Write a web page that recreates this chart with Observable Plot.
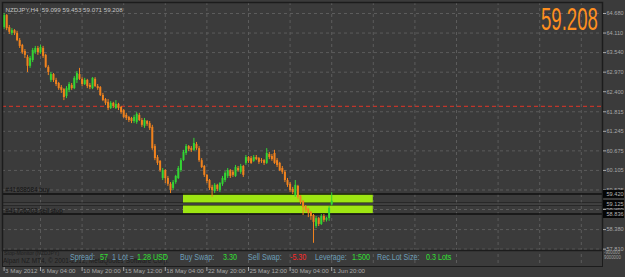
<!DOCTYPE html>
<html><head><meta charset="utf-8">
<script src="https://cdn.jsdelivr.net/npm/d3@7"></script>
<script src="https://cdn.jsdelivr.net/npm/@observablehq/plot@0.6"></script>
<style>
html,body{margin:0;padding:0;background:#3b3b3b;overflow:hidden;}
#wrap{position:relative;width:625px;height:277px;overflow:hidden;}
#wrap svg{position:absolute;left:0;top:0;}
.ov{position:absolute;white-space:nowrap;font-family:"Liberation Sans",Arial,sans-serif;transform-origin:0 50%;}
</style></head><body><div id="wrap"></div>
<script>
// ---- data (NZDJPY, H4) ----
const symbol = "NZDJPY", timeframe = "H4";
const opens = [64.27,64.62,64.27,64.10,64.18,64.10,63.89,63.75,63.57,63.40,63.14,63.31,63.54,63.66,63.54,63.66,63.46,63.11,62.73,62.90,
62.73,62.64,62.52,62.46,62.26,62.44,62.58,62.49,62.73,62.90,62.76,62.61,62.73,62.58,62.49,62.76,62.55,62.52,62.29,62.17,
62.09,61.91,62.06,61.91,62.03,61.94,61.85,61.71,61.65,61.62,61.53,61.50,61.71,61.56,61.39,61.53,61.47,61.36,60.80,60.48,
60.37,59.87,60.10,59.87,59.70,59.58,59.75,59.87,60.10,60.39,60.60,60.80,60.74,60.69,60.86,60.74,60.39,60.22,59.96,59.81,
59.61,59.49,59.67,59.52,59.70,59.81,59.93,60.10,60.05,59.93,60.16,60.05,60.22,60.31,60.48,60.45,60.37,60.48,60.45,60.39,
60.39,60.31,60.57,60.51,60.60,60.39,60.31,60.16,60.05,59.81,59.70,59.55,59.37,59.64,59.35,59.20,59.05,58.97,58.88,58.79,
58.47,58.70,58.53,58.76,58.65,58.70,59.099];
const highs = [64.68,64.65,64.33,64.24,64.21,64.16,63.95,63.78,63.63,63.46,63.43,63.66,63.72,63.72,63.75,63.72,63.49,63.16,62.96,62.93,
62.79,62.67,62.58,62.49,62.55,62.67,62.64,62.84,62.99,63.08,62.81,62.79,62.76,62.64,62.81,62.81,62.61,62.55,62.35,62.20,
62.17,62.11,62.09,62.14,62.06,61.97,61.88,61.77,61.68,61.65,61.71,61.79,61.77,61.62,61.62,61.56,61.53,61.42,60.86,60.54,
60.39,60.16,60.13,59.93,59.75,59.81,59.96,60.22,60.45,60.69,60.86,60.83,60.80,61.04,60.92,60.80,60.45,60.25,59.99,59.84,
59.67,59.72,59.70,59.75,59.93,60.07,60.16,60.13,60.10,60.25,60.22,60.28,60.25,60.54,60.51,60.51,60.54,60.54,60.48,60.45,
60.42,60.74,60.63,60.57,60.69,60.45,60.34,60.22,60.10,59.87,59.75,59.61,59.81,59.67,59.37,59.23,59.08,59.00,58.91,58.82,
58.76,58.73,58.82,58.82,58.74,59.05,59.453];
const lows = [64.21,64.18,64.07,64.04,64.04,63.86,63.66,63.49,63.37,62.96,63.08,63.25,63.49,63.46,63.49,63.37,63.08,62.87,62.67,62.67,
62.55,62.44,62.35,62.14,62.20,62.38,62.44,62.46,62.64,62.73,62.55,62.58,62.49,62.46,62.46,62.52,62.44,62.26,62.11,62.00,
61.85,61.88,61.91,61.88,61.85,61.74,61.62,61.56,61.50,61.47,61.47,61.45,61.53,61.36,61.33,61.39,61.27,60.69,60.39,60.25,
60.05,59.81,59.72,59.64,59.43,59.52,59.70,59.84,60.05,60.37,60.54,60.66,60.63,60.66,60.69,60.34,60.16,59.90,59.72,59.52,
59.32,59.43,59.49,59.46,59.64,59.75,59.87,59.87,59.90,59.90,60.05,59.99,59.90,60.25,60.31,60.28,60.34,60.39,60.28,60.31,
60.25,60.28,60.42,60.37,60.28,60.19,60.07,59.99,59.75,59.61,59.46,59.40,59.32,59.26,59.11,58.79,58.88,58.73,58.65,57.98,
58.41,58.47,58.50,58.59,58.60,58.62,59.071];
const closes = [64.62,64.24,64.13,64.18,64.10,63.89,63.72,63.54,63.46,63.14,63.37,63.60,63.66,63.54,63.69,63.43,63.11,62.96,62.90,62.73,
62.61,62.49,62.44,62.23,62.49,62.61,62.49,62.79,62.93,62.76,62.61,62.73,62.55,62.52,62.79,62.55,62.49,62.29,62.14,62.06,
61.91,62.06,61.97,62.03,61.91,61.79,61.65,61.62,61.56,61.53,61.65,61.74,61.56,61.42,61.56,61.45,61.33,60.74,60.45,60.31,
60.10,60.10,59.87,59.70,59.52,59.75,59.93,60.16,60.39,60.63,60.80,60.72,60.69,60.89,60.74,60.39,60.19,59.96,59.78,59.58,
59.52,59.67,59.55,59.72,59.87,60.02,60.10,59.93,59.96,60.19,60.10,60.22,59.96,60.48,60.37,60.31,60.48,60.42,60.34,60.37,
60.31,60.60,60.48,60.42,60.31,60.25,60.10,60.05,59.81,59.67,59.52,59.46,59.67,59.32,59.17,59.02,58.94,58.85,58.76,58.59,
58.70,58.53,58.76,58.65,58.70,59.00,59.208];

const priceTicks = [64.680,64.110,63.540,62.970,62.400,61.815,61.245,60.675,60.105,59.535,58.965,58.380,57.810];
const timeTickBars = [0,14,30,46,62,78,94,110,126];
const timeTickLabels = ["3 May 2012","6 May 04:00","10 May 20:00","15 May 12:00","18 May 04:00","22 May 20:00","25 May 12:00","30 May 04:00","1 Jun 20:00"];
const gridBars = [14,30,46,62,78,94,110,126,142,158,174,190,206,222];

const alertPrice = 61.97;
const orderPrices = [59.420, 59.125, 58.836];
const orderPriceLabels = ["59.420","59.125","58.836"];
const orderTagPrices = [59.420, 58.836];
const orderTagLabels = ["#41688684 buy","#41726203 sell stop"];
const zoneBars = [69, 142];
const subScaleLabels = ["-900000", "9000000"];

// ---- build ----
const bull = "#33d433", bear = "#f0821e";
const candles = closes.map((c, i) => ({i, o: opens[i], h: highs[i], l: lows[i], c, col: c >= opens[i] ? bull : bear}));
const n = closes.length - 1;
const headerText = `${symbol},${timeframe}  ${opens[n].toFixed(3)} ${highs[n].toFixed(3)} ${lows[n].toFixed(3)} ${closes[n].toFixed(3)}`;
const zone = [{b1: zoneBars[0], b2: zoneBars[1], p1: orderPrices[0], p2: orderPrices[2]}];
const tags = orderTagPrices.map((p, i) => ({price: p, label: orderTagLabels[i]}));

const chart = Plot.plot({
  width: 625, height: 277,
  marginLeft: 2, marginRight: 23, marginTop: 2, marginBottom: 27,
  x: {domain: [-0.615, 230.15], axis: null},
  y: {domain: [57.770, 65.001], axis: null},
  color: {type: "identity"},
  style: {background: "#3b3b3b", color: "#a9a9a9", fontFamily: "'Liberation Sans', Arial, sans-serif", fontSize: "7px", overflow: "visible"},
  marks: [
    Plot.ruleY(priceTicks, {stroke: "#5c5c5c", strokeDasharray: "3,3"}),
    Plot.ruleX(gridBars, {stroke: "#5c5c5c", strokeDasharray: "3,3", insetBottom: -16}),
    Plot.rect(zone, {x1: "b1", x2: "b2", y1: "p1", y2: "p2", fill: "#9ee612"}),
    Plot.ruleY([alertPrice], {stroke: "#c0352a", strokeWidth: 1.3, strokeDasharray: "4,3"}),
    Plot.ruleY(orderTagPrices, {stroke: "#111", strokeWidth: 1.5}),
    Plot.ruleY([orderPrices[1]], {stroke: "#161616", strokeWidth: 3}),
    Plot.ruleY([orderPrices[1]], {stroke: "#6a6a6a", strokeWidth: 1}),
    Plot.ruleX(candles, {x: "i", y1: "l", y2: "h", stroke: "col", strokeWidth: 1}),
    Plot.ruleX(candles, {x: "i", y1: "o", y2: "c", stroke: "col", strokeWidth: 2}),
    Plot.frame({stroke: "#1c1c1c", strokeWidth: 1.5}),
    Plot.frame({stroke: "#1c1c1c", insetBottom: -16}),
    Plot.axisY(priceTicks, {anchor: "right", tickSize: 3, tickPadding: 1, tickFormat: d => d.toFixed(3), fontSize: 5.6}),
    Plot.ruleY(orderPrices, {stroke: "#050505", strokeWidth: 8, insetLeft: 601, insetRight: -22}),
    Plot.text(orderPrices, {y: d => d, text: (d, i) => orderPriceLabels[i], frameAnchor: "right", textAnchor: "start", dx: 4, fill: "#b5b5b5", fontSize: 5.6}),
    Plot.text(tags, {y: "price", text: "label", frameAnchor: "left", textAnchor: "start", dx: 3, dy: -3.5, fill: "#141414", fontSize: 6.4}),
    Plot.text(timeTickBars, {x: d => d, text: (d, i) => timeTickLabels[i], frameAnchor: "bottom", textAnchor: "start", dx: 1, dy: 22, fill: "#a9a9a9", fontSize: 6.2}),
    Plot.ruleX(timeTickBars, {x: d => d, insetTop: 265, insetBottom: -21, stroke: "#a9a9a9"}),
    Plot.text([headerText], {frameAnchor: "top-left", textAnchor: "start", dx: 3, dy: 5, fill: "#c4c4c4", fontSize: 6.2})
  ]
});
const wrap = document.getElementById("wrap");
wrap.appendChild(chart);

// ---- overlay texts (indicator output) ----
function addText(t, x, y, size, color, sx, extra) {
  const d = document.createElement("div");
  d.className = "ov";
  d.textContent = t;
  d.style.left = x + "px"; d.style.top = (y - size) + "px";
  d.style.fontSize = size + "px"; d.style.lineHeight = (2 * size) + "px";
  d.style.color = color; d.style.transform = `scaleX(${sx})`;
  if (extra) Object.assign(d.style, extra);
  wrap.appendChild(d);
  return d;
}
// big last price, right-aligned to x = 598
const big = addText(closes[n].toFixed(3), 0, 20, 31, "#ff8f1f", 0.6);
big.style.left = (598 - big.offsetWidth * 0.6) + "px";

const infoItems = [
  {t: "Spread:", x: 70, c: "#6d9fb8"}, {t: "57", x: 100, c: "#33e033"},
  {t: "1 Lot =", x: 112, c: "#6d9fb8"}, {t: "1.28 USD", x: 137, c: "#33e033"},
  {t: "Buy Swap:", x: 180, c: "#6d9fb8"}, {t: "3.30", x: 223, c: "#33e033"},
  {t: "Sell Swap:", x: 248, c: "#6d9fb8"}, {t: "-5.30", x: 290, c: "#ff2a2a"},
  {t: "Leverage:", x: 315, c: "#6d9fb8"}, {t: "1:500", x: 352, c: "#33e033"},
  {t: "Rec.Lot Size:", x: 377, c: "#6d9fb8"}, {t: "0.3 Lots", x: 426, c: "#33e033"}
];
addText("Stop-Monitor (NZDJPY)", 4, 253.5, 5.5, "#202020", 0.95);
addText("Alpari NZ MT4, © 2001-2012, MetaQuotes Software Corp.", 3, 261, 7, "#1c1c1c", 0.92);
infoItems.forEach(it => addText(it.t, it.x, 257.5, 8.5, it.c, 0.84));
addText(subScaleLabels[0], 604, 253, 4.8, "#a0a0a0", 0.9);
addText(subScaleLabels[1], 604, 257.5, 4.8, "#a0a0a0", 0.9);
</script>
</body></html>
